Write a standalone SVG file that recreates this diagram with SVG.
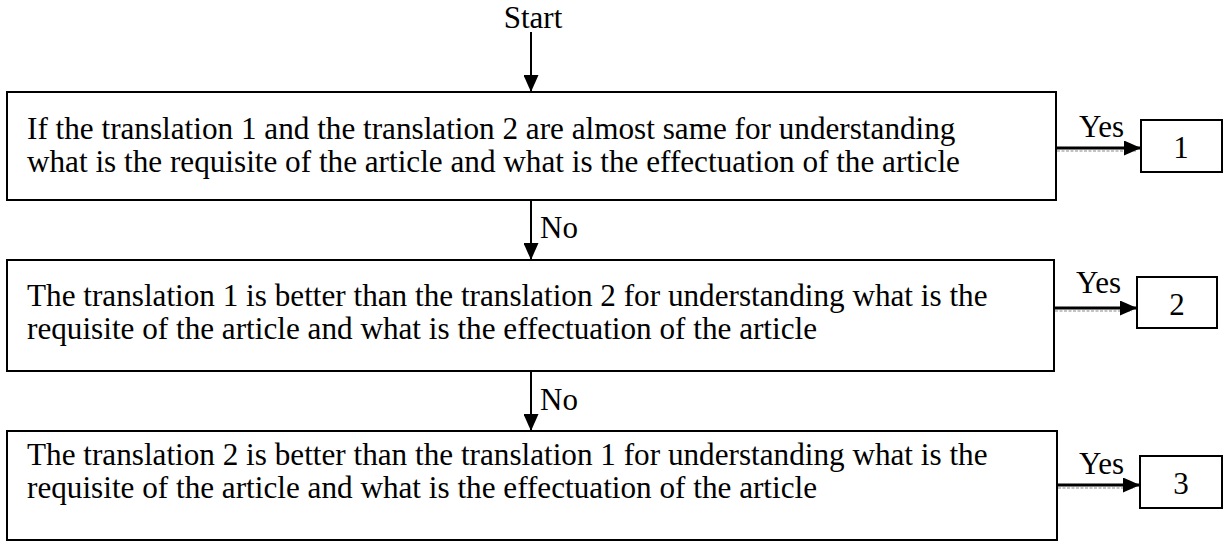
<svg xmlns="http://www.w3.org/2000/svg" width="1225" height="542" viewBox="0 0 1225 542">
  <style>
    .box { fill: #fff; stroke: #000; stroke-width: 2; }
    .txt { font-family: "Liberation Serif", "Times New Roman", serif; font-size: 31.2px; fill: #000; }
    .lbl { font-family: "Liberation Serif", "Times New Roman", serif; font-size: 31px; fill: #000; }
    .num { font-family: "Liberation Serif", "Times New Roman", serif; font-size: 31px; fill: #000; text-anchor: middle; }
    .shaft { stroke: #000; stroke-width: 2; fill: none; }
    .hshaft { stroke: #000; stroke-width: 3; fill: none; }
    .shadow { stroke: #b0b0b0; stroke-width: 1.5; stroke-dasharray: 3 1.5; fill: none; }
  </style>
  <defs>
    <marker id="head" viewBox="0 0 10 10" refX="10" refY="5" markerWidth="17" markerHeight="15" markerUnits="userSpaceOnUse" orient="auto" preserveAspectRatio="none">
      <path d="M0,0 L10,5 L0,10 Z" fill="#000"/>
    </marker>
  </defs>

  <text class="lbl" x="533" y="28" text-anchor="middle" font-size="29">Start</text>

  <g id="decision-1">
    <rect class="box" x="7" y="92" width="1049" height="108"/>
    <text class="txt" x="27" y="139">If the translation 1 and the translation 2 are almost same for understanding</text>
    <text class="txt" x="27" y="172">what is the requisite of the article and what is the effectuation of the article</text>
  </g>

  <g id="decision-2">
    <rect class="box" x="7" y="260" width="1047" height="111"/>
    <text class="txt" x="27" y="306">The translation 1 is better than the translation 2 for understanding what is the</text>
    <text class="txt" x="27" y="339">requisite of the article and what is the effectuation of the article</text>
  </g>

  <g id="decision-3">
    <rect class="box" x="7" y="431" width="1050" height="109"/>
    <text class="txt" x="27" y="465">The translation 2 is better than the translation 1 for understanding what is the</text>
    <text class="txt" x="27" y="498">requisite of the article and what is the effectuation of the article</text>
  </g>

  <g id="result-1">
    <rect class="box" x="1141" y="120" width="81" height="52"/>
    <text class="num" x="1181" y="158">1</text>
  </g>

  <g id="result-2">
    <rect class="box" x="1137" y="277" width="80" height="51"/>
    <text class="num" x="1177" y="315">2</text>
  </g>

  <g id="result-3">
    <rect class="box" x="1140" y="456" width="82" height="52"/>
    <text class="num" x="1181" y="494">3</text>
  </g>

  <g id="connectors">
    <line class="shaft" x1="531" y1="32" x2="531" y2="92" marker-end="url(#head)"/>
    <line class="shaft" x1="531" y1="201" x2="531" y2="260" marker-end="url(#head)"/>
    <line class="shaft" x1="531" y1="371" x2="531" y2="431" marker-end="url(#head)"/>

    <line class="shadow" x1="1057" y1="151" x2="1136" y2="151"/>
    <line class="hshaft" x1="1057" y1="148" x2="1141" y2="148" marker-end="url(#head)"/>
    <line class="shadow" x1="1055" y1="311" x2="1132" y2="311"/>
    <line class="hshaft" x1="1055" y1="308" x2="1137" y2="308" marker-end="url(#head)"/>
    <line class="shadow" x1="1058" y1="488" x2="1135" y2="488"/>
    <line class="hshaft" x1="1058" y1="485" x2="1140" y2="485" marker-end="url(#head)"/>

    <text class="lbl" x="1079" y="137">Yes</text>
    <text class="lbl" x="1076" y="293">Yes</text>
    <text class="lbl" x="1079" y="474">Yes</text>
    <text class="lbl" x="540" y="238">No</text>
    <text class="lbl" x="540" y="410">No</text>
  </g>
</svg>
